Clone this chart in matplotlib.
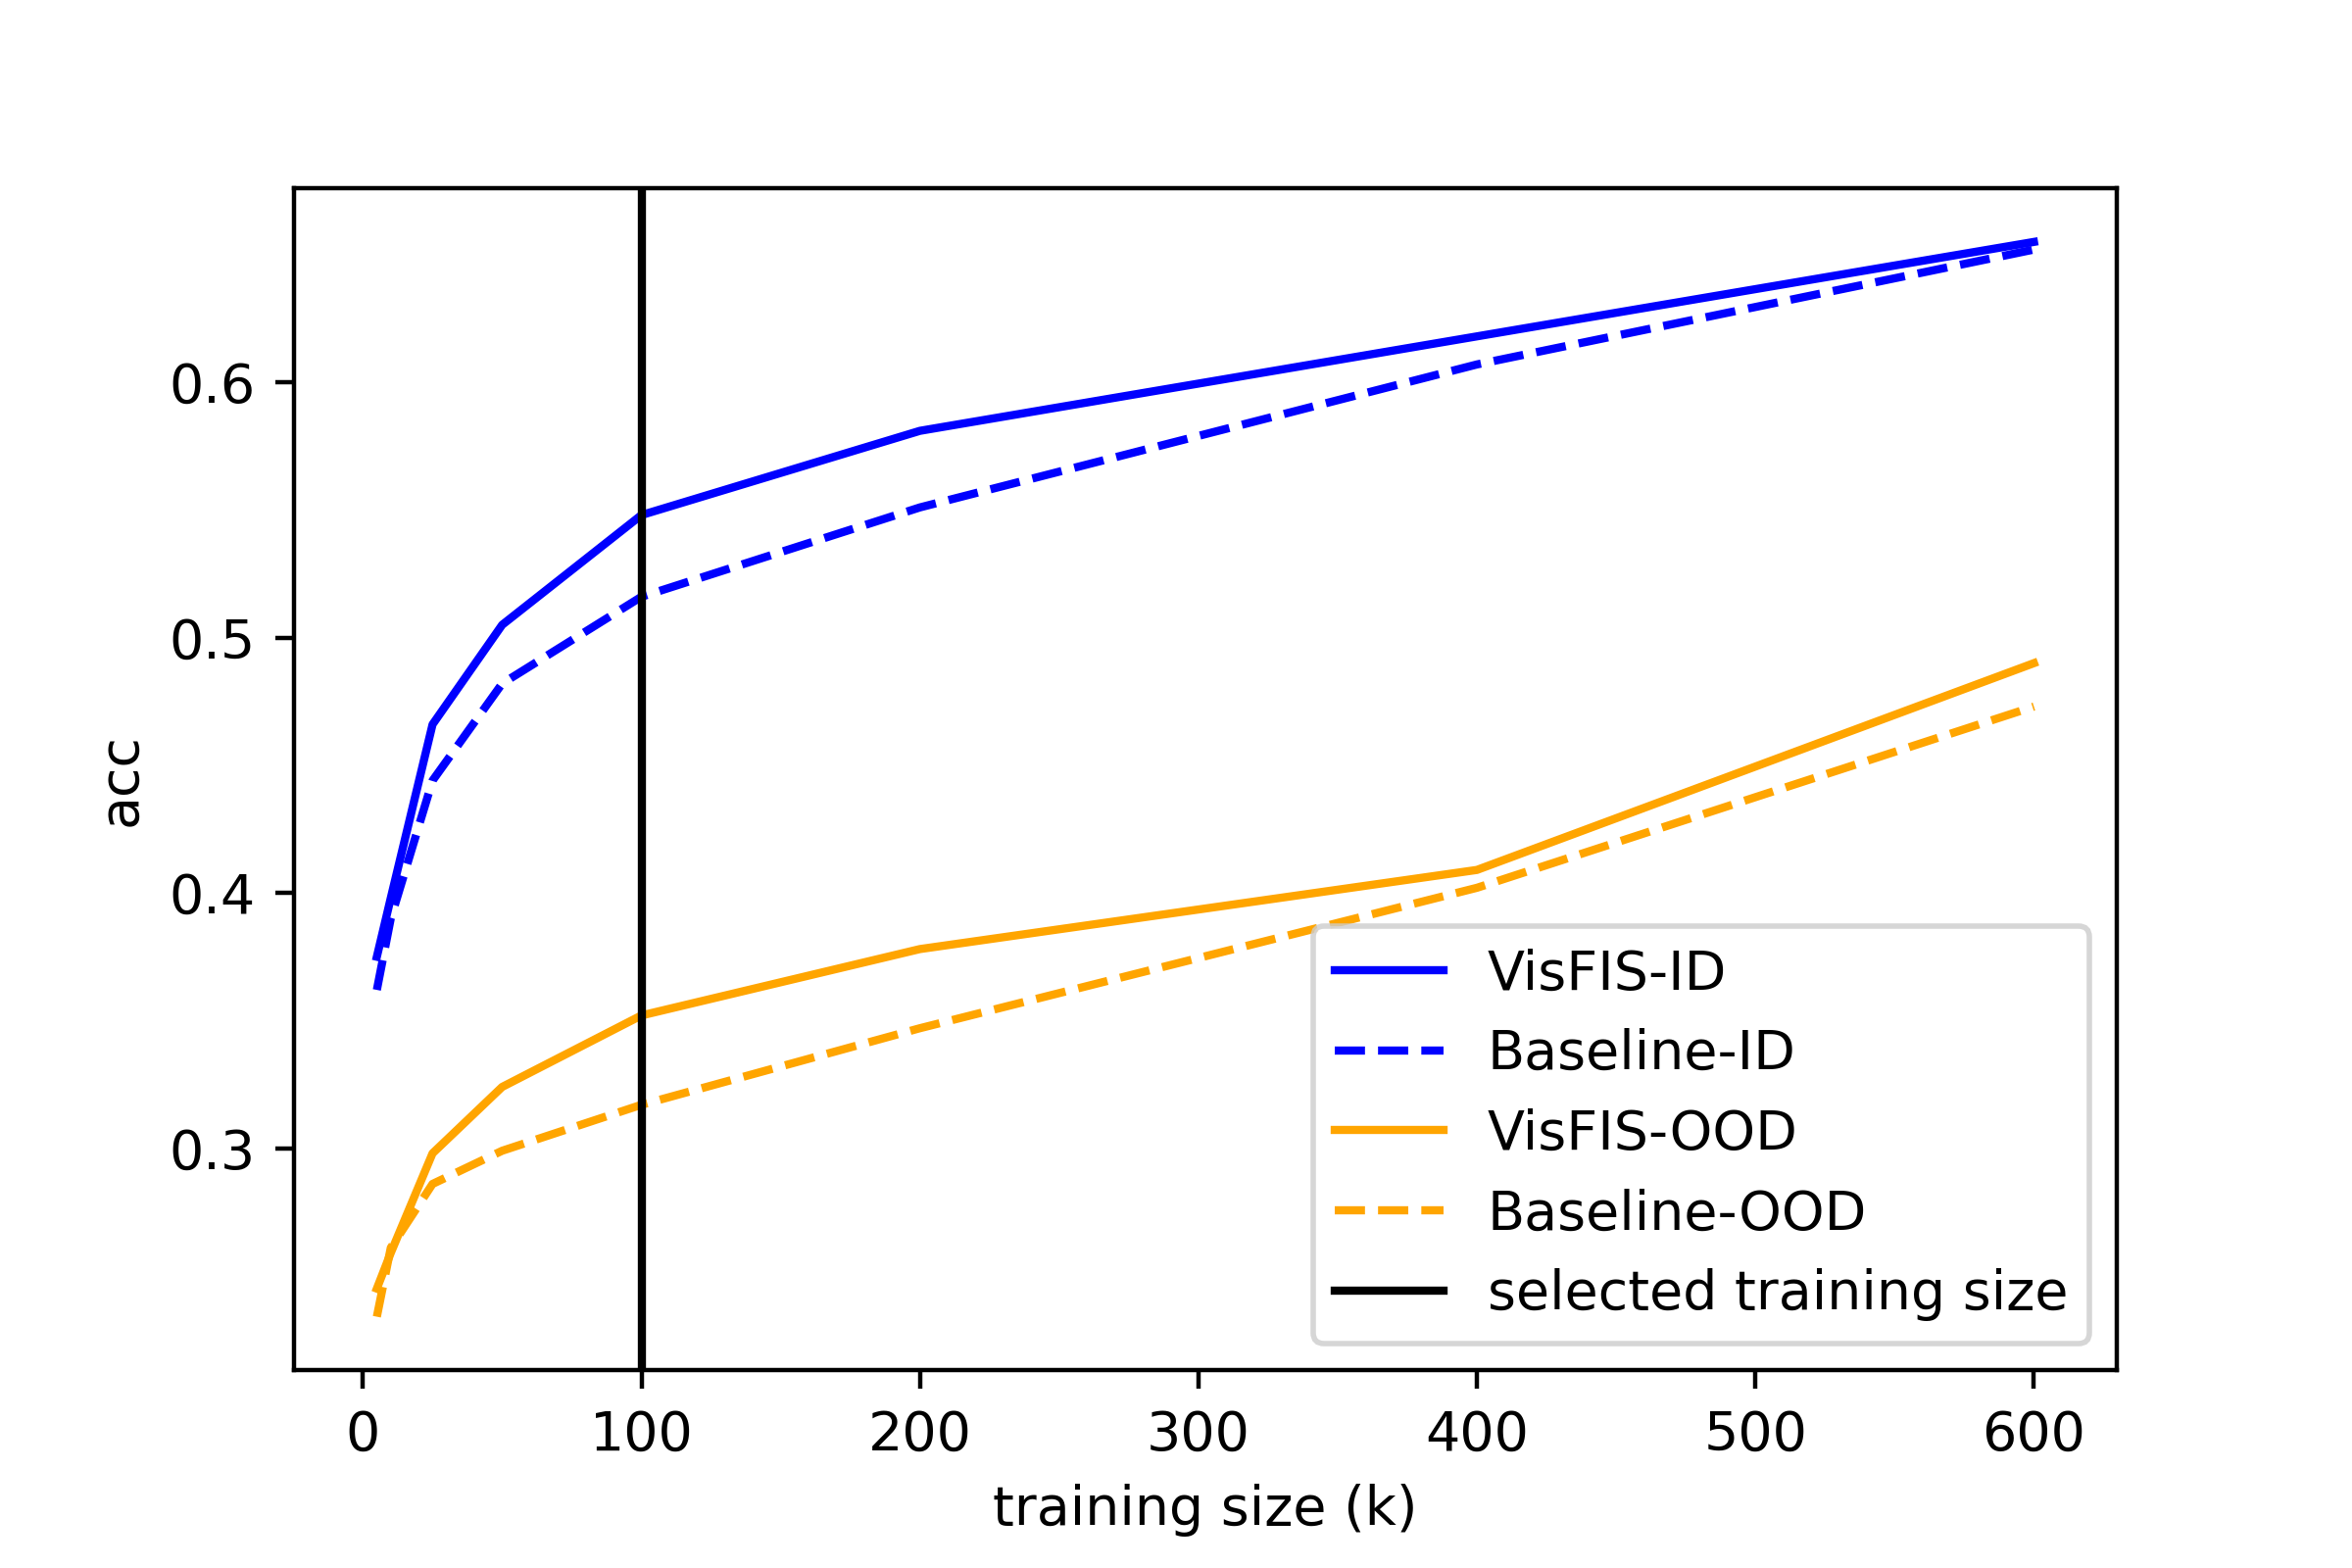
import matplotlib
matplotlib.use("Agg")
import matplotlib.pyplot as plt

# DATA (training size in thousands, accuracy)
train_size = [5, 10, 25, 50, 100, 200, 400, 600]
visfis_id = [0.375, 0.398, 0.466, 0.505, 0.548, 0.581, 0.618, 0.655]
baseline_id = [0.362, 0.390, 0.444, 0.482, 0.516, 0.551, 0.607, 0.652]
visfis_ood = [0.245, 0.259, 0.298, 0.324, 0.352, 0.378, 0.409, 0.490]
baseline_ood = [0.234, 0.261, 0.286, 0.299, 0.317, 0.347, 0.402, 0.473]
selected_size = 100

fig, ax = plt.subplots(figsize=(6, 4), dpi=400)
fig.subplots_adjust(bottom=0.126)

ax.plot(train_size, visfis_id, color="blue", linestyle="-", label="VisFIS-ID")
ax.plot(train_size, baseline_id, color="blue", linestyle="--", label="Baseline-ID")
ax.plot(train_size, visfis_ood, color="orange", linestyle="-", label="VisFIS-OOD")
ax.plot(train_size, baseline_ood, color="orange", linestyle="--", label="Baseline-OOD")
ax.axvline(selected_size, color="black", label="selected training size")

ax.set_xlabel("training size (k)")
ax.set_ylabel("acc")
ax.legend(loc="lower right")

fig.savefig("out.png")
